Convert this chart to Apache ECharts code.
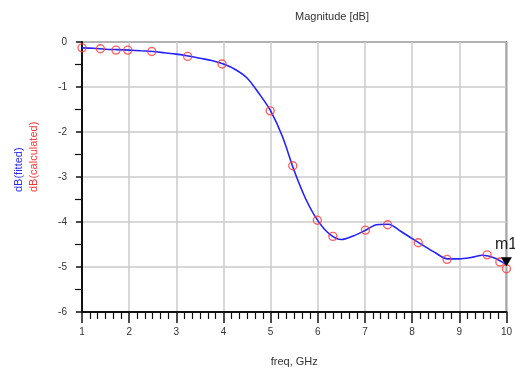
<!DOCTYPE html>
<html>
<head>
<meta charset="utf-8">
<script src="https://cdn.jsdelivr.net/npm/echarts@6/dist/echarts.min.js"></script>
<style>
  html, body { margin: 0; padding: 0; background: #fff; }
  #chart { width: 515px; height: 372px; }
</style>
</head>
<body>
<div id="chart"></div>
<script>
// Frequency sweep, GHz (fitted model sampled every 0.25 GHz)
var freqFitted = [1.0, 1.25, 1.5, 1.75, 2.0, 2.25, 2.5, 2.75, 3.0, 3.25, 3.5, 3.75, 4.0, 4.25, 4.5, 4.75, 5.0, 5.25, 5.5, 5.75, 6.0, 6.25, 6.5, 6.75, 7.0, 7.25, 7.5, 7.75, 8.0, 8.25, 8.5, 8.75, 9.0, 9.25, 9.5, 9.75, 10.0];
var dbFitted   = [-0.13, -0.14, -0.16, -0.17, -0.18, -0.195, -0.21, -0.24, -0.27, -0.31, -0.36, -0.41, -0.49, -0.61, -0.80, -1.14, -1.53, -2.10, -2.86, -3.50, -3.97, -4.27, -4.39, -4.31, -4.19, -4.06, -4.05, -4.20, -4.37, -4.53, -4.69, -4.82, -4.82, -4.79, -4.74, -4.80, -4.95];

// Calculated points
var freqCalc = [1.0, 1.39, 1.72, 1.97, 2.48, 3.24, 3.97, 4.99, 5.47, 5.99, 6.32, 7.01, 7.48, 8.13, 8.74, 9.59, 9.86, 10.0];
var dbCalc   = [-0.13, -0.15, -0.18, -0.18, -0.21, -0.32, -0.49, -1.53, -2.75, -3.96, -4.32, -4.18, -4.06, -4.46, -4.83, -4.73, -4.89, -5.04];

// Marker m1 at the end of the sweep
var markerFreq = 10.0;
var markerDb = -4.95;

var xTicks = { min: 1, max: 10, step: 1 };
var yTicks = { min: -6, max: 0, step: 1 };

function pairs(xs, ys) {
  return xs.map(function (x, i) { return [x, ys[i]]; });
}

var chart = echarts.init(document.getElementById('chart'), null, { renderer: 'canvas' });
var FONT = 'Liberation Sans, Arial, sans-serif';
var labelFont = { color: '#333', fontSize: 10, fontFamily: FONT };

chart.setOption({
  animation: false,
  backgroundColor: '#fff',
  grid: {
    left: 82, right: 7, top: 42, bottom: 59,
    show: true, borderColor: '#333', borderWidth: 1.5, backgroundColor: 'transparent'
  },
  xAxis: {
    type: 'value',
    min: xTicks.min, max: xTicks.max, interval: xTicks.step,
    name: 'freq, GHz',
    nameLocation: 'middle',
    nameGap: 44,
    nameTextStyle: { color: '#333', fontSize: 11, fontFamily: FONT },
    axisLine: { onZero: false, lineStyle: { color: '#111', width: 2 } },
    axisTick: { length: 11, lineStyle: { color: '#111', width: 1.5 } },
    minorTick: { show: true, splitNumber: 6, length: 7, lineStyle: { color: '#111', width: 1.2 } },
    axisLabel: Object.assign({ margin: 15 }, labelFont),
    splitLine: { show: true, lineStyle: { color: '#cbcbcb', width: 1.5 } }
  },
  yAxis: {
    type: 'value',
    min: yTicks.min, max: yTicks.max, interval: yTicks.step,
    axisLine: { onZero: false, lineStyle: { color: '#111', width: 2 } },
    axisTick: { length: 6, lineStyle: { color: '#111', width: 1.5 } },
    minorTick: { show: true, splitNumber: 2, length: 7, lineStyle: { color: '#111', width: 1.2 } },
    axisLabel: Object.assign({ margin: 15 }, labelFont),
    splitLine: { show: true, lineStyle: { color: '#cbcbcb', width: 1.5 } }
  },
  series: [
    {
      name: 'dB(fitted)',
      type: 'line',
      data: pairs(freqFitted, dbFitted),
      smooth: 0.3,
      showSymbol: false,
      lineStyle: { color: '#2222ff', width: 1.6 },
      z: 3,
      markPoint: {
        symbol: 'triangle',
        symbolSize: [11, 9],
        symbolRotate: 180,
        symbolOffset: [0, -3],
        itemStyle: { color: '#000' },
        label: {
          show: true,
          formatter: 'm1',
          position: [-6, -21],
          color: '#222',
          fontSize: 16,
          fontFamily: FONT
        },
        data: [{ coord: [markerFreq, markerDb] }]
      }
    },
    {
      name: 'dB(calculated)',
      type: 'scatter',
      data: pairs(freqCalc, dbCalc),
      symbol: 'circle',
      symbolSize: 8,
      itemStyle: { color: 'rgba(0,0,0,0)', borderColor: '#ff3b3b', borderWidth: 1.4 },
      z: 4
    }
  ],
  graphic: [
    {
      type: 'text', left: 295, top: 11,
      style: { text: 'Magnitude [dB]', fill: '#333', fontSize: 11, fontFamily: FONT, textAlign: 'center' }
    },
    {
      type: 'text', x: 19, y: 192, rotation: Math.PI / 2,
      style: { text: 'dB(fitted)', fill: '#2a2aff', fontSize: 11, fontFamily: FONT, textAlign: 'left', textVerticalAlign: 'middle' }
    },
    {
      type: 'text', x: 34, y: 192, rotation: Math.PI / 2,
      style: { text: 'dB(calculated)', fill: '#ff3333', fontSize: 11, fontFamily: FONT, textAlign: 'left', textVerticalAlign: 'middle' }
    }
  ]
});
</script>
</body>
</html>
